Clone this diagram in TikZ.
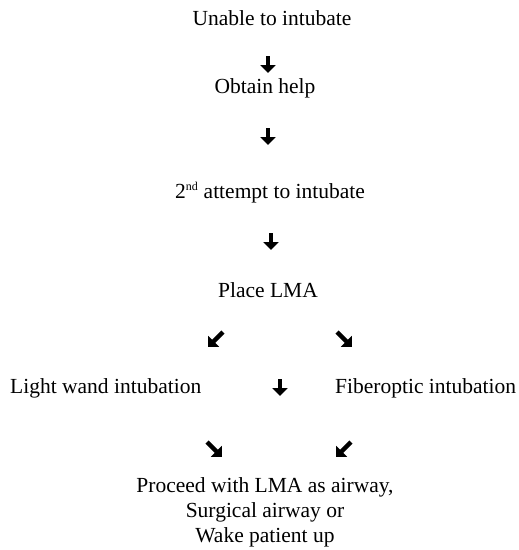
\documentclass[tikz,border=0pt]{standalone}
\usepackage{fontspec}
\setmainfont{Liberation Serif}
\usepackage{tikz}
\usetikzlibrary{arrows.meta,positioning,calc}
\tikzset{
  lepes/.style={inner sep=0pt,anchor=base,font=\fontsize{21.5}{25}\selectfont},
  vnyil/.style={line width=4.5pt,-{Triangle[width=15pt,length=8pt]}},
}

\begin{document}
\begin{tikzpicture}[x=1pt,y=-1pt]
  \useasboundingbox (0,0) rectangle (519,550);
  % lepesek
  \node[lepes] (unable) at (272,25) {Unable to intubate};
  \node[lepes] (help) at (265,93) {Obtain help};
  \node[lepes] (second) at (270,198) {2\textsuperscript{\fontsize{12}{12}\selectfont nd} attempt to intubate};
  \node[lepes] (lma) at (268,297) {Place LMA};
  \node[lepes,anchor=base west] (wand) at (10,393) {Light wand intubation};
  \node[lepes,anchor=base west] (fiber) at (335,393) {Fiberoptic intubation};
  \node[lepes,align=center] (vege) at (265,542) {Proceed with LMA as airway,\\Surgical airway or\\Wake patient up};
  % nyilak vegpontjai
  \coordinate (a1s) at (268,56);  \coordinate (a1e) at (268,73);
  \coordinate (a2s) at (268,128); \coordinate (a2e) at (268,145);
  \coordinate (a3s) at (271,233); \coordinate (a3e) at (271,250);
  \coordinate (a4s) at (223,332); \coordinate (a4e) at (208,347);
  \coordinate (a5s) at (337,332); \coordinate (a5e) at (352,347);
  \coordinate (a6s) at (280,379); \coordinate (a6e) at (280,396);
  \coordinate (a7s) at (207,442); \coordinate (a7e) at (222,457);
  \coordinate (a8s) at (351,442); \coordinate (a8e) at (336,457);
  \foreach \i in {1,...,8} \draw[vnyil] (a\i s) -- (a\i e);
\end{tikzpicture}
\end{document}
